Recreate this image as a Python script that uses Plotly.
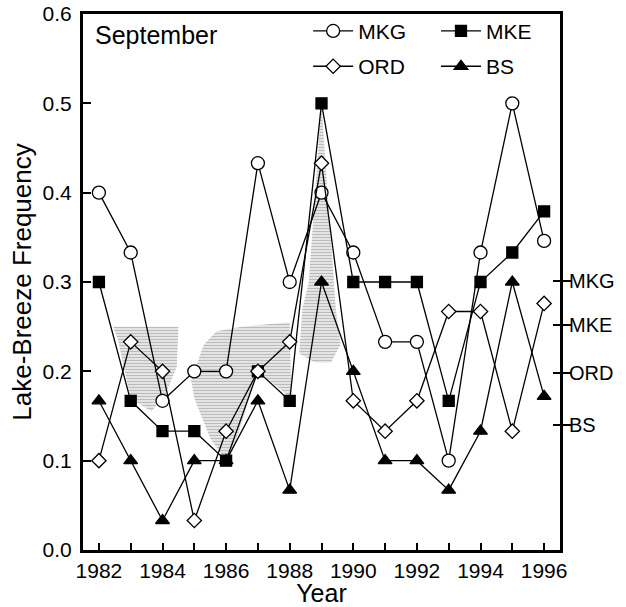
import numpy as np
import plotly.graph_objects as go

# Lake-breeze frequency for September, by year and station
years = list(range(1982, 1997))
mkg = [0.400, 0.333, 0.167, 0.200, 0.200, 0.433, 0.300, 0.400, 0.333, 0.233, 0.233, 0.100, 0.333, 0.500, 0.346]
mke = [0.300, 0.167, 0.133, 0.133, 0.100, 0.200, 0.167, 0.500, 0.300, 0.300, 0.300, 0.167, 0.300, 0.333, 0.379]
ord_ = [0.100, 0.233, 0.200, 0.033, 0.133, 0.200, 0.233, 0.433, 0.167, 0.133, 0.167, 0.267, 0.267, 0.133, 0.276]
bs = [0.167, 0.100, 0.033, 0.100, 0.100, 0.167, 0.067, 0.300, 0.200, 0.100, 0.100, 0.067, 0.133, 0.300, 0.172]

stations = ["MKG", "MKE", "ORD", "BS"]
series = [mkg, mke, ord_, bs]
station_means = [float(np.mean(s)) for s in series]

# Stippled background regions (year, frequency outlines)
shade_a_x = [1982.45, 1984.5, 1984.45, 1984.1, 1983.65, 1983.0, 1982.6]
shade_a_y = [0.250, 0.250, 0.205, 0.175, 0.155, 0.170, 0.235]
shade_b_x = [1984.9, 1985.3, 1985.7, 1986.5, 1988.0, 1988.05, 1987.0, 1986.2, 1986.0, 1985.5, 1985.0]
shade_b_y = [0.190, 0.230, 0.245, 0.250, 0.255, 0.170, 0.200, 0.110, 0.100, 0.125, 0.170]
shade_c_x = [1988.3, 1988.4, 1988.6, 1988.85, 1989.0, 1989.15, 1989.45, 1989.6, 1989.3, 1988.8]
shade_c_y = [0.220, 0.270, 0.300, 0.420, 0.500, 0.420, 0.270, 0.230, 0.210, 0.210]

x_ticks = years
x_ticktext = [str(y) if y % 2 == 0 else "" for y in years]
y_ticks = [0.0, 0.1, 0.2, 0.3, 0.4, 0.5, 0.6]

FONT = "Liberation Sans, Arial, Helvetica, sans-serif"

fig = go.Figure()

for sx, sy in [(shade_a_x, shade_a_y), (shade_b_x, shade_b_y), (shade_c_x, shade_c_y)]:
    fig.add_trace(go.Scatter(
        x=sx, y=sy, mode="lines", fill="toself",
        line=dict(width=0, color="rgba(0,0,0,0)"),
        fillcolor="rgba(190,190,190,0.55)",
        fillpattern=dict(shape="-", size=3, solidity=0.45,
                         fgcolor="#8c8c8c", bgcolor="rgba(215,215,215,0.5)"),
        hoverinfo="skip", showlegend=False,
    ))

styles = {
    "MKG": dict(symbol="circle", size=13, color="white", legend="legend"),
    "MKE": dict(symbol="square", size=11, color="black", legend="legend2"),
    "ORD": dict(symbol="diamond", size=11, color="white", legend="legend"),
    "BS": dict(symbol="triangle-up", size=12, color="black", legend="legend2"),
}

for name, vals in zip(stations, series):
    st = styles[name]
    fig.add_trace(go.Scatter(
        x=years, y=vals, mode="lines+markers", name=name,
        line=dict(color="black", width=1.3),
        marker=dict(symbol=st["symbol"], size=st["size"], color=st["color"],
                    line=dict(color="black", width=1.3)),
        legend=st["legend"], legendgroup=name,
    ))

# right-hand axis marking each station's mean
fig.add_trace(go.Scatter(x=[years[0]], y=[station_means[0]], yaxis="y2",
                         mode="markers", marker=dict(opacity=0), showlegend=False,
                         hoverinfo="skip"))
fig.add_trace(go.Scatter(x=[years[0]], y=[station_means[0]], yaxis="y3",
                         mode="markers", marker=dict(opacity=0), showlegend=False,
                         hoverinfo="skip"))

fig.update_layout(
    width=626, height=607,
    margin=dict(l=83, r=66, t=14, b=57, autoexpand=False),
    paper_bgcolor="white", plot_bgcolor="white",
    font=dict(family=FONT, color="black", size=21),
    xaxis=dict(
        range=[1981.5, 1996.5], tickvals=x_ticks, ticktext=x_ticktext,
        ticks="inside", ticklen=7, tickwidth=2, tickcolor="black",
        showline=True, linewidth=3, linecolor="black", mirror=True,
        showgrid=False, zeroline=False, automargin=False,
        tickfont=dict(size=21),
        title=dict(text="Year", font=dict(size=25), standoff=0),
    ),
    yaxis=dict(
        range=[0, 0.6], tickvals=y_ticks, tickformat=".1f",
        ticks="inside", ticklen=8, tickwidth=2, tickcolor="black",
        showline=True, linewidth=3, linecolor="black", mirror=False,
        showgrid=False, zeroline=False, automargin=False,
        tickfont=dict(size=21), ticklabelstandoff=4,
        title=dict(text="Lake-Breeze Frequency", font=dict(size=26), standoff=4),
    ),
    yaxis2=dict(
        range=[0, 0.6], overlaying="y", side="right",
        tickvals=station_means, ticktext=stations,
        ticks="outside", ticklen=8, tickwidth=2, tickcolor="black",
        showline=True, linewidth=3, linecolor="black", automargin=False,
        showgrid=False, zeroline=False, tickfont=dict(size=20),
        ticklabelstandoff=-6,
    ),
    yaxis3=dict(
        range=[0, 0.6], overlaying="y", side="right",
        tickvals=station_means, showticklabels=False,
        ticks="inside", ticklen=7, tickwidth=2, tickcolor="black",
        showline=False, showgrid=False, zeroline=False, automargin=False,
    ),
    legend=dict(x=0.472, y=1.006, xanchor="left", yanchor="top",
                bgcolor="rgba(0,0,0,0)", font=dict(size=21),
                tracegroupgap=5, itemwidth=40),
    legend2=dict(x=0.74, y=1.006, xanchor="left", yanchor="top",
                 bgcolor="rgba(0,0,0,0)", font=dict(size=21),
                 tracegroupgap=5, itemwidth=40),
    annotations=[dict(text="September", xref="paper", yref="paper",
                      x=0.021, y=0.96, xanchor="left", yanchor="middle",
                      showarrow=False, font=dict(size=25))],
)

fig.write_html("out.html")
